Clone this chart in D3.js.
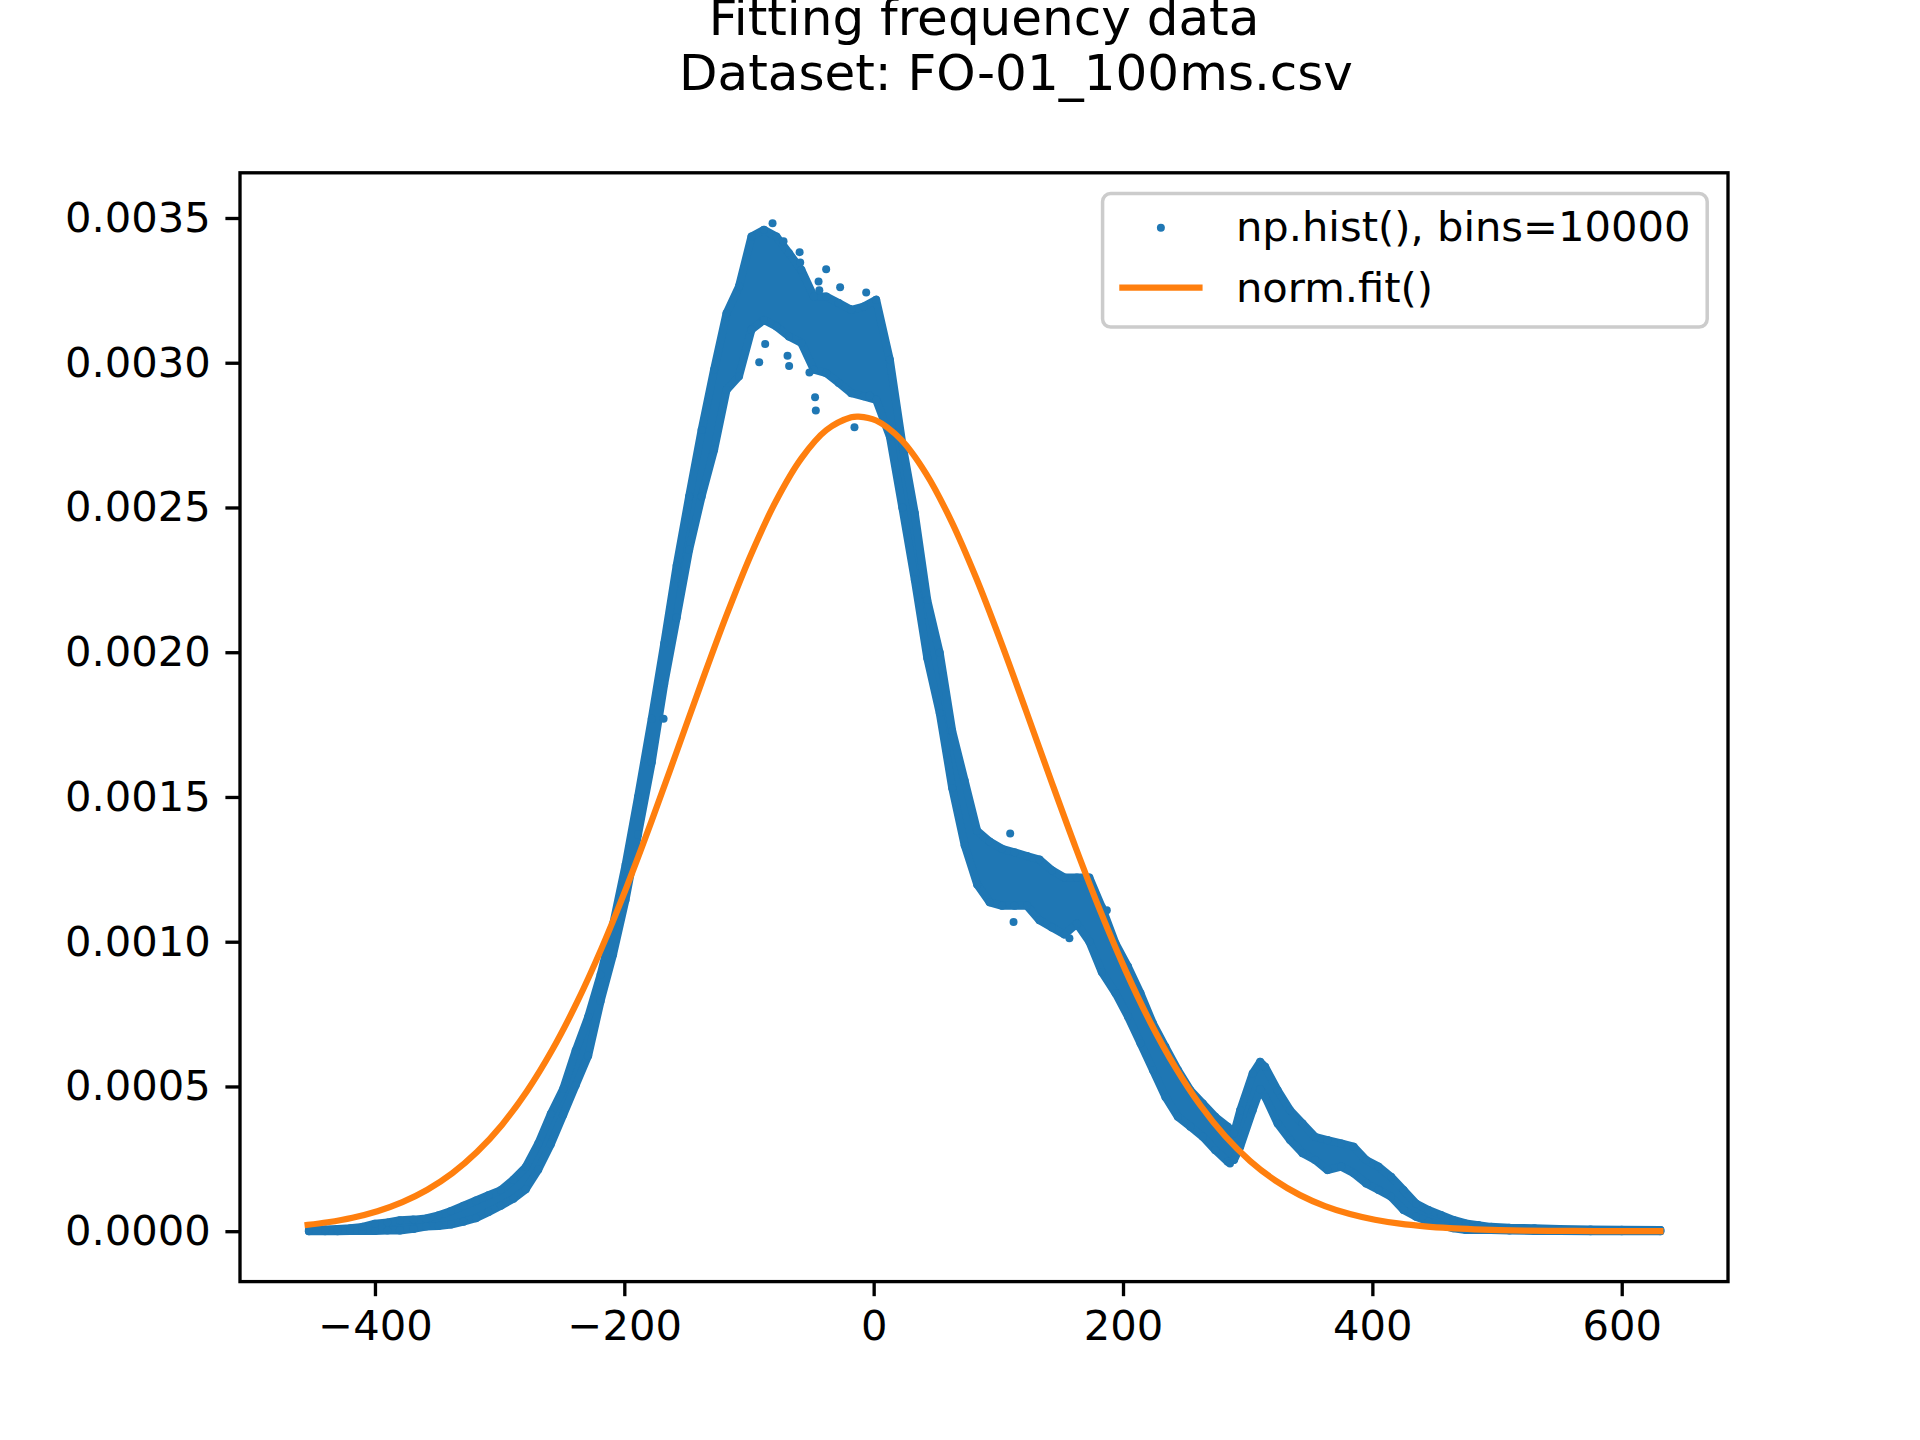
<!DOCTYPE html>
<html><head><meta charset="utf-8">
<script src="https://cdn.jsdelivr.net/npm/d3@7"></script>
<style>
body{margin:0;background:#fff}
svg{display:block}
text{font-family:"DejaVu Sans",sans-serif}
</style>
</head><body>
<svg id="chart" width="1920" height="1440"></svg>
<script>
const titleLines = ["Fitting frequency data", "Dataset: FO-01_100ms.csv"];
const legendLabels = ["np.hist(), bins=10000", "norm.fit()"];
const xTicks = [-400, -200, 0, 200, 400, 600];
const yTicks = [0, 0.0005, 0.0010, 0.0015, 0.0020, 0.0025, 0.0030, 0.0035];

// histogram scatter: x position, lower and upper edge of the point cloud
const histX = [-453,-440,-430,-420,-410,-400,-390,-380,-369,-359,-349,-339,-329,-319,-309,-299,-289,-279,-269,-259,-249,-239,-229,-219,-209,-199,-189,-178,-168,-158,-148,-138,-128,-118,-108,-98,-88,-78,-68,-58,-48,-38,-28,-18,-8,2,13,23,33,43,53,63,73,83,93,103,113,123,133,143,153,163,173,183,194,204,214,224,234,244,254,264,274,284,289,294,304,310,314,324,334,344,354,364,375,385,395,405,415,425,435,445,455,465,475,485,495,510,530,550,575,600,631];
const histLow = [0,0,0,0.000001,0.000001,0.000001,0.000002,0.000002,0.000008,0.000016,0.000018,0.000023,0.000033,0.000045,0.000066,0.000088,0.000112,0.000145,0.000213,0.000300,0.000402,0.000504,0.000606,0.000795,0.000956,0.001145,0.001370,0.001620,0.001890,0.002120,0.002354,0.002538,0.002699,0.002906,0.002953,0.003114,0.003148,0.003125,0.003091,0.003068,0.002976,0.002964,0.002930,0.002895,0.002884,0.002872,0.002745,0.002500,0.002250,0.001980,0.001790,0.001531,0.001333,0.001198,0.001136,0.001124,0.001124,0.001124,0.001074,0.001049,0.001025,0.001062,0.001000,0.000895,0.000822,0.000741,0.000649,0.000557,0.000464,0.000395,0.000361,0.000326,0.000280,0.000240,0.000246,0.000292,0.000418,0.000490,0.000464,0.000372,0.000315,0.000269,0.000246,0.000211,0.000223,0.000200,0.000165,0.000142,0.000119,0.000073,0.000050,0.000033,0.000021,0.000010,0.000004,0.000004,0.000004,0.000002,0.000001,0.000001,0,0,0];
const histHigh = [0.000004,0.000006,0.000008,0.000010,0.000015,0.000026,0.000030,0.000038,0.000040,0.000044,0.000055,0.000070,0.000088,0.000106,0.000124,0.000142,0.000178,0.000222,0.000303,0.000405,0.000492,0.000624,0.000740,0.000886,0.001060,0.001265,0.001500,0.001770,0.002030,0.002300,0.002538,0.002768,0.002976,0.003171,0.003264,0.003436,0.003459,0.003436,0.003379,0.003321,0.003229,0.003229,0.003206,0.003183,0.003194,0.003218,0.003010,0.002720,0.002480,0.002180,0.001998,0.001728,0.001556,0.001383,0.001346,0.001321,0.001309,0.001296,0.001284,0.001247,0.001222,0.001222,0.001222,0.001120,0.000994,0.000914,0.000822,0.000718,0.000637,0.000557,0.000487,0.000441,0.000395,0.000361,0.000338,0.000418,0.000545,0.000585,0.000568,0.000487,0.000418,0.000372,0.000326,0.000315,0.000303,0.000292,0.000246,0.000223,0.000188,0.000142,0.000096,0.000073,0.000056,0.000039,0.000027,0.000021,0.000015,0.000012,0.000010,0.000008,0.000006,0.000005,0.000004];
// isolated points standing apart from the cloud
const strayX = [-81.1,-72.3,-59.4,-58.9,-38.1,-44.2,-43.6,-26.9,-6.0,-87.0,-91.8,-69.1,-67.8,-51.5,-47.0,-46.4,-15.4,-3.3,109.5,112.2,157.0,187.0,285.8,-168.5];
const strayY = [0.003482,0.003420,0.003382,0.003346,0.003323,0.003281,0.003250,0.003261,0.003243,0.003065,0.003002,0.003024,0.002989,0.002966,0.002881,0.002835,0.002777,0.002886,0.001374,0.001068,0.001012,0.001109,0.000234,0.001770];

// fitted normal curve
const fitX = [-454,-438,-418,-398,-378,-358,-338,-318,-298,-278,-258,-238,-218,-198,-178,-158,-138,-118,-98,-78,-58,-38,-18,-12,2,22,42,62,82,102,122,142,162,182,202,222,242,262,282,302,322,342,362,382,402,422,442,462,482,502,522,542,562,582,602,631];
const fitY = [0.0000218,0.0000309,0.0000467,0.0000692,0.0001006,0.0001433,0.0002002,0.0002744,0.0003681,0.0004844,0.0006249,0.0007902,0.0009796,0.0011905,0.0014182,0.0016562,0.0018960,0.0021281,0.0023413,0.0025252,0.0026698,0.0027671,0.0028115,0.002814,0.0028003,0.0027343,0.0026172,0.0024557,0.0022590,0.0020369,0.0018005,0.0015603,0.0013255,0.0011037,0.0009010,0.0007211,0.0005658,0.0004350,0.0003280,0.0002424,0.0001757,0.0001247,0.0000868,0.0000593,0.0000397,0.0000260,0.0000167,0.0000105,0.0000065,0.0000039,0.0000023,0.0000014,0.0000008,0.0000004,0.0000002,0.0000001];

const BLUE = "#1f77b4", ORANGE = "#ff7f0e";
const FS = 41.67;
const L = 240, R = 1728, T = 172.8, B = 1281.6;

const svg = d3.select("#chart");

const allX = histX.concat(fitX, strayX);
const allY = histLow.concat(histHigh, fitY, strayY);
const [xa, xb] = d3.extent(allX);
const [ya, yb] = d3.extent(allY);
const xp = (xb - xa) * 0.05, yp = (yb - ya) * 0.05;
const x = d3.scaleLinear().domain([xa - xp, xb + xp]).range([L, R]);
const y = d3.scaleLinear().domain([ya - yp, yb + yp]).range([B, T]);

// title
svg.append("text").attr("x", (L + R) / 2).attr("y", 35).attr("text-anchor", "middle")
  .attr("font-size", 50).text(titleLines[0]);
svg.append("text").attr("x", (L + R) / 2 + 32).attr("y", 89.5).attr("text-anchor", "middle")
  .attr("font-size", 50).text(titleLines[1]);

const plot = svg.append("g");

// scatter cloud
const cloud = histX.map((v, i) => ({x: v, lo: histLow[i], hi: histHigh[i]}));
const area = d3.area().x(d => x(d.x)).y0(d => y(d.lo)).y1(d => y(d.hi));
plot.append("path").datum(cloud).attr("d", area)
  .attr("fill", BLUE).attr("stroke", BLUE).attr("stroke-width", 8).attr("stroke-linejoin", "round");
const pts = [];
cloud.forEach(d => { pts.push([d.x, d.lo]); pts.push([d.x, d.hi]); });
strayX.forEach((v, i) => pts.push([v, strayY[i]]));
plot.selectAll("circle.pt").data(pts).join("circle").attr("class", "pt")
  .attr("cx", d => x(d[0])).attr("cy", d => y(d[1])).attr("r", 4).attr("fill", BLUE);

// fit line
const line = d3.line().x((d, i) => x(fitX[i])).y(d => y(d)).curve(d3.curveCatmullRom.alpha(0.5));
plot.append("path").datum(fitY).attr("d", line).attr("fill", "none")
  .attr("stroke", ORANGE).attr("stroke-width", 6.25).attr("stroke-linecap", "square");

// axes
const fmtX = d => (d < 0 ? "\u2212" + Math.abs(d) : String(d));
const gx = svg.append("g").attr("transform", `translate(0,${B})`)
  .call(d3.axisBottom(x).tickValues(xTicks).tickFormat(fmtX).tickSize(14.6).tickPadding(14.6));
const gy = svg.append("g").attr("transform", `translate(${L},0)`)
  .call(d3.axisLeft(y).tickValues(yTicks).tickFormat(d3.format(".4f")).tickSize(14.6).tickPadding(14.6));
[gx, gy].forEach(g => {
  g.select(".domain").remove();
  g.attr("font-family", null).attr("font-size", null);
  g.selectAll("line").attr("stroke", "#000").attr("stroke-width", 3.33);
  g.selectAll("text").attr("font-size", FS).attr("fill", "#000");
});
svg.append("rect").attr("x", L).attr("y", T).attr("width", R - L).attr("height", B - T)
  .attr("fill", "none").attr("stroke", "#000").attr("stroke-width", 3.33);

// legend
const lg = svg.append("g");
const frame = lg.append("rect");
const t1 = lg.append("text").attr("x", 1240).attr("y", 240.5).attr("font-size", FS).text(legendLabels[0]);
lg.append("text").attr("x", 1240).attr("y", 301.5).attr("font-size", FS).text(legendLabels[1]);
const tw = t1.node().getComputedTextLength();
const boxR = R - 20.8;
const boxW = 16.7 + 83.3 + 33.3 + tw + 16.7;
frame.attr("x", boxR - boxW).attr("y", 193.6).attr("width", boxW).attr("height", 133.4)
  .attr("rx", 8).attr("fill", "#fff").attr("fill-opacity", 0.8)
  .attr("stroke", "#cccccc").attr("stroke-width", 3.5);
lg.selectAll("text").attr("x", boxR - boxW + 16.7 + 83.3 + 33.3);
const hx = boxR - boxW + 16.7;
lg.append("circle").attr("cx", hx + 41.6).attr("cy", 227.8).attr("r", 4).attr("fill", BLUE);
lg.append("line").attr("x1", hx).attr("x2", hx + 83.3).attr("y1", 287.5).attr("y2", 287.5)
  .attr("stroke", ORANGE).attr("stroke-width", 6.25);
</script>
</body></html>
